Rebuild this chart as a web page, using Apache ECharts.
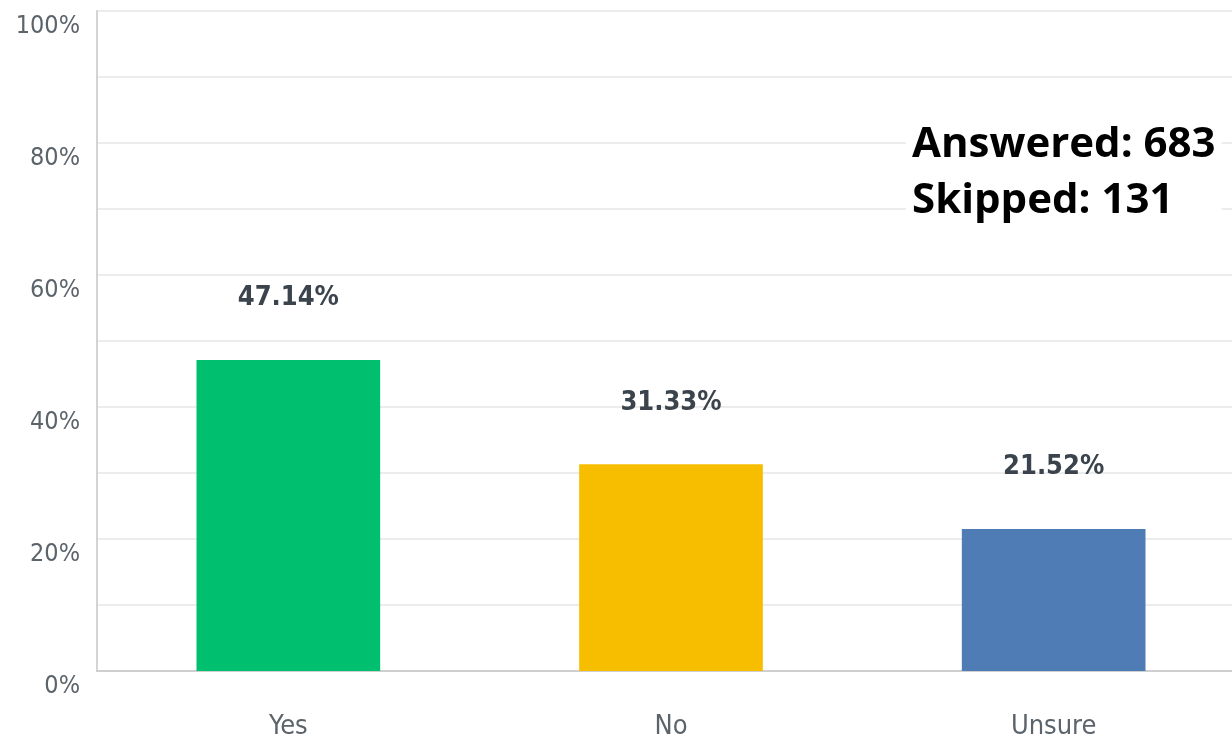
<!DOCTYPE html>
<html>
<head>
<meta charset="utf-8">
<script src="https://cdn.jsdelivr.net/npm/echarts@6/dist/echarts.min.js"></script>
<style>html,body{margin:0;padding:0;background:#fff}#c{width:1232px;height:743px}</style>
</head>
<body>
<div id="c"></div>
<script>
const categories = ['Yes', 'No', 'Unsure'];
const values = [47.14, 31.33, 21.52];
const barColors = ['#00BF6F', '#F7BE00', '#507CB6'];
const yTicks = [0, 20, 40, 60, 80, 100];
const noteLines = ['Answered: 683', 'Skipped: 131'];

const chart = echarts.init(document.getElementById('c'), null, {renderer: 'canvas'});
const condensed = '"Liberation Sans Narrow", "DejaVu Sans Condensed", "Roboto", sans-serif';
chart.setOption({
  animation: false,
  grid: {left: 97, top: 11, bottom: 72, width: 1148, containLabel: false, outerBoundsMode: 'none'},
  xAxis: {
    type: 'category',
    data: categories,
    axisLine: {lineStyle: {color: '#cfcfcf', width: 2}},
    axisTick: {show: false},
    axisLabel: {fontSize: 27, color: '#5b636b', fontFamily: condensed, margin: 42}
  },
  yAxis: {
    type: 'value',
    min: 0, max: 100, interval: 10,
    axisLine: {show: true, lineStyle: {color: '#d4d4d4', width: 2}},
    axisTick: {show: false},
    splitLine: {lineStyle: {color: '#ececec', width: 2}},
    axisLabel: {
      fontSize: 25, color: '#5b636b', fontFamily: condensed, margin: 17,
      verticalAlign: 'top', padding: [3, 0, 0, 0],
      formatter: v => yTicks.includes(v) ? v + '%' : ''
    }
  },
  series: [{
    type: 'bar',
    data: values.map((v, i) => ({value: v, itemStyle: {color: barColors[i]}})),
    barWidth: '48%',
    label: {
      show: true, position: 'top', distance: 48,
      formatter: p => p.value.toFixed(2) + '%',
      fontSize: 27, fontWeight: 'bold', color: '#3b434c', fontFamily: condensed
    }
  }],
  graphic: [{
    type: 'text', left: 906, top: 117, z: 100,
    style: {
      text: noteLines.join('\n'),
      font: 'bold 42px "Open Sans", "Liberation Sans", sans-serif',
      lineHeight: 56, fill: '#000',
      backgroundColor: '#fff', padding: [0, 6, 0, 6]
    }
  }]
});
</script>
</body>
</html>
